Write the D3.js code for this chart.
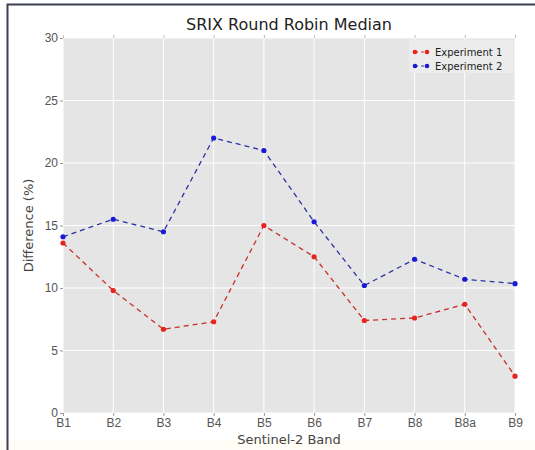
<!DOCTYPE html>
<html>
<head>
<meta charset="utf-8">
<script src="https://cdn.jsdelivr.net/npm/d3@7"></script>
<style>
  body { margin: 0; background: #fff; }
  svg { font-family: "DejaVu Sans", sans-serif; }
</style>
</head>
<body>
<svg id="chart" width="535" height="450"></svg>
<script>
const bands = ["B1", "B2", "B3", "B4", "B5", "B6", "B7", "B8", "B8a", "B9"];
const experiment1 = [13.6, 9.8, 6.7, 7.3, 15.0, 12.5, 7.4, 7.6, 8.7, 2.95];
const experiment2 = [14.1, 15.5, 14.5, 22.0, 21.0, 15.3, 10.2, 12.3, 10.7, 10.35];
const yTicks = [0, 5, 10, 15, 20, 25, 30];

const svg = d3.select("#chart");
const width = +svg.attr("width");
const height = +svg.attr("height");
const margin = { top: 38, right: 20, bottom: 37, left: 63 };

// frame around the picture
svg.append("rect")
  .attr("x", 0).attr("y", 440).attr("width", width).attr("height", 10)
  .attr("fill", "#fffdf5");
svg.append("path")
  .attr("d", `M7.5,${height} L7.5,4.5 L${width},4.5`)
  .attr("fill", "none")
  .attr("stroke", "#3b4152")
  .attr("stroke-width", 2);

const x = d3.scalePoint()
  .domain(bands)
  .range([margin.left, width - margin.right]);

const y = d3.scaleLinear()
  .domain([0, 30])
  .range([height - margin.bottom, margin.top]);

// plot background
svg.append("rect")
  .attr("x", margin.left)
  .attr("y", margin.top)
  .attr("width", width - margin.left - margin.right)
  .attr("height", height - margin.top - margin.bottom)
  .attr("fill", "#e5e5e5");

// grid lines
svg.append("g")
  .selectAll("line.vgrid")
  .data(bands)
  .enter()
  .append("line")
  .attr("x1", d => x(d)).attr("x2", d => x(d))
  .attr("y1", margin.top).attr("y2", height - margin.bottom)
  .attr("stroke", "#fff").attr("stroke-width", 1);

svg.append("g")
  .selectAll("line.hgrid")
  .data(yTicks)
  .enter()
  .append("line")
  .attr("x1", margin.left).attr("x2", width - margin.right)
  .attr("y1", d => y(d)).attr("y2", d => y(d))
  .attr("stroke", "#fff").attr("stroke-width", 1);

// axes
const xAxis = svg.append("g")
  .attr("transform", `translate(0, ${height - margin.bottom})`)
  .call(d3.axisBottom(x).tickSize(3).tickPadding(2));
xAxis.select(".domain").remove();
xAxis.selectAll("line").attr("stroke", "#999");
xAxis.selectAll("text").style("font-size", "12px").attr("fill", "#555");

const xTop = svg.append("g")
  .attr("transform", `translate(0, ${margin.top})`)
  .call(d3.axisTop(x).tickSize(3).tickFormat(""));
xTop.select(".domain").remove();
xTop.selectAll("line").attr("stroke", "#bbb");

const yAxis = svg.append("g")
  .attr("transform", `translate(${margin.left}, 0)`)
  .call(d3.axisLeft(y).tickValues(yTicks).tickSize(3).tickPadding(2));
yAxis.select(".domain").remove();
yAxis.selectAll("line").attr("stroke", "#999");
yAxis.selectAll("text").style("font-size", "12px").attr("fill", "#555");

// title and axis labels
svg.append("text")
  .attr("x", (margin.left + width - margin.right) / 2)
  .attr("y", 30)
  .attr("text-anchor", "middle")
  .style("font-size", "16px")
  .attr("fill", "#222")
  .text("SRIX Round Robin Median");

svg.append("text")
  .attr("x", (margin.left + width - margin.right) / 2)
  .attr("y", 444)
  .attr("text-anchor", "middle")
  .style("font-size", "13px")
  .attr("fill", "#444")
  .text("Sentinel-2 Band");

svg.append("text")
  .attr("transform", "rotate(-90)")
  .attr("x", -(margin.top + height - margin.bottom) / 2)
  .attr("y", 33)
  .attr("text-anchor", "middle")
  .style("font-size", "13px")
  .attr("fill", "#444")
  .text("Difference (%)");

// series
const series = [
  { name: "Experiment 1", values: experiment1, color: "#e8231e", line: "#c8302a" },
  { name: "Experiment 2", values: experiment2, color: "#1a1ad6", line: "#2a34a0" }
];

const line = d3.line()
  .x((d, i) => x(bands[i]))
  .y(d => y(d));

series.forEach(s => {
  svg.append("path")
    .datum(s.values)
    .attr("fill", "none")
    .attr("stroke", s.line)
    .attr("stroke-width", 1.3)
    .attr("stroke-dasharray", "5,4")
    .attr("d", line);

  svg.selectAll(null)
    .data(s.values)
    .enter()
    .append("circle")
    .attr("cx", (d, i) => x(bands[i]))
    .attr("cy", d => y(d))
    .attr("r", 2.6)
    .attr("fill", s.color);
});

// legend
const legend = svg.append("g")
  .attr("transform", `translate(${width - margin.right - 106}, ${margin.top + 2})`);

legend.append("rect")
  .attr("width", 104)
  .attr("height", 33)
  .attr("fill", "#ececec");

series.forEach((s, i) => {
  const yy = 12 + i * 14;
  legend.append("line")
    .attr("x1", 6).attr("x2", 18)
    .attr("y1", yy).attr("y2", yy)
    .attr("stroke", s.line)
    .attr("stroke-width", 1.2)
    .attr("stroke-dasharray", "3,3");
  legend.selectAll(null)
    .data([6, 18])
    .enter()
    .append("circle")
    .attr("cx", d => d)
    .attr("cy", yy)
    .attr("r", 2.3)
    .attr("fill", s.color);
  legend.append("text")
    .attr("x", 26)
    .attr("y", yy + 3.5)
    .style("font-size", "10px")
    .attr("fill", "#222")
    .text(s.name);
});
</script>
</body>
</html>
